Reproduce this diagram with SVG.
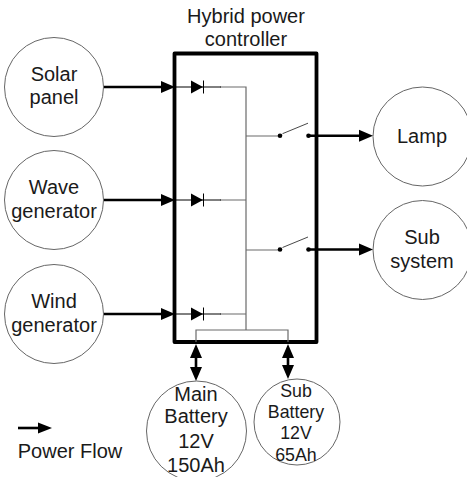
<svg xmlns="http://www.w3.org/2000/svg" width="467" height="477" viewBox="0 0 467 477">
<style>
text{font-family:"Liberation Sans",Arial,sans-serif;font-size:20px;fill:#1a1a1a;text-anchor:middle}
.s{font-size:17.800px}
.c{fill:#fff;stroke:#666;stroke-width:1}
.w{fill:none;stroke:#6a6a6a;stroke-width:1.200}
.k{fill:none;stroke:#000;stroke-width:1}
.p{fill:none;stroke:#000;stroke-width:2.600}
.ah{fill:#000;stroke:none}
</style>
<defs>
<g id="diode"><path d="M-21 0H25" class="k"/><path class="ah" d="M-5 -6.500L7 0L-5 6.500Z"/><path d="M7.500 -6.500V6.500" class="k"/></g>
<g id="sw"><circle cx="0" cy="0" r="2.300" fill="#000"/><circle cx="28.500" cy="0" r="2.300" fill="#000"/><path d="M2.500 -2L28 -12.500" stroke="#333" stroke-width="0.900" fill="none"/></g>
</defs>
<g id="solar"><circle class="c" cx="54" cy="87" r="49.500"/><text x="54" y="81">Solar</text><text x="54" y="104">panel</text></g>
<g id="wave"><circle class="c" cx="54" cy="200" r="49.500"/><text x="54" y="194">Wave</text><text x="54" y="218">generator</text></g>
<g id="wind"><circle class="c" cx="54" cy="314" r="49.500"/><text x="54" y="308">Wind</text><text x="54" y="332">generator</text></g>
<g id="lamp"><circle class="c" cx="422.500" cy="136.500" r="49.500"/><text x="422" y="143">Lamp</text></g>
<g id="subsystem"><circle class="c" cx="422.500" cy="250" r="49.500"/><text x="422" y="244">Sub</text><text x="422" y="268">system</text></g>
<g id="main-battery"><circle class="c" cx="196.500" cy="431" r="50"/><text x="196" y="401">Main</text><text x="196" y="423">Battery</text><text x="196" y="448">12V</text><text x="196" y="472">150Ah</text></g>
<g id="sub-battery"><circle class="c" cx="297" cy="422" r="43"/><text class="s" x="296" y="397">Sub</text><text class="s" x="296" y="418">Battery</text><text class="s" x="296" y="439">12V</text><text class="s" x="296" y="461">65Ah</text></g>
<g id="controller"><rect x="174.500" y="53.500" width="142" height="288.500" fill="none" stroke="#000" stroke-width="3.800" stroke-linejoin="round"/><text x="246" y="23">Hybrid power</text><text x="246" y="45.500">controller</text></g>
<g id="connectors">
<path class="w" d="M220 87H246V330M220 200H246M220 314H246M246 136H280M246 250H280M196 342V330H288V342"/>
<use href="#diode" x="196" y="87"/><use href="#diode" x="196" y="200"/><use href="#diode" x="196" y="314"/>
<use href="#sw" x="280" y="135.700"/><use href="#sw" x="280" y="249.500"/>
<path class="p" d="M104 87H163M104 200H163M104 314H163M308 135.700H361M308 249.500H361"/>
<path class="ah" d="M161 81L175 87L161 93ZM161 194L175 200L161 206ZM161 308L175 314L161 320ZM359 129.700L373 135.700L359 141.700ZM359 243.500L373 249.500L359 255.500Z"/>
<path class="p" d="M196 350V376M288 350V374"/>
<path class="ah" d="M190 358L196 344L202 358ZM190 367L196 381L202 367ZM282 358L288 344L294 358ZM282 365L288 379L294 365Z"/>
<path class="p" d="M18 428H42"/><path class="ah" d="M38 422.500L52 428L38 433.500Z"/>
</g>
<text id="legend" x="70" y="458">Power Flow</text>
</svg>
